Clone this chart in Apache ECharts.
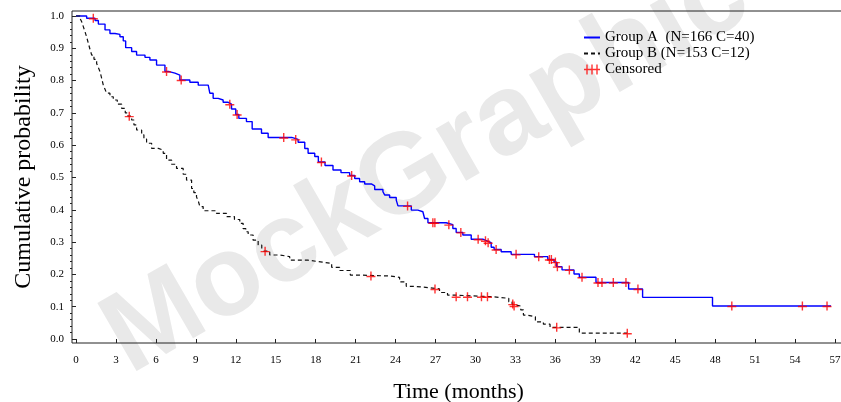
<!DOCTYPE html>
<html>
<head>
<meta charset="utf-8">
<script src="https://cdn.jsdelivr.net/npm/echarts@6/dist/echarts.min.js"></script>
<style>
  html, body { margin: 0; padding: 0; background: #fff; }
  #chart { width: 841px; height: 402px; }
</style>
</head>
<body>
<div id="chart"></div>
<script>
// tick values
const xTicks = [0, 3, 6, 9, 12, 15, 18, 21, 24, 27, 30, 33, 36, 39, 42, 45, 48, 51, 54, 57];
const yTicks = [0, 0.1, 0.2, 0.3, 0.4, 0.5, 0.6, 0.7, 0.8, 0.9, 1.0];

const seriesNames = ['Group A  (N=166 C=40)', 'Group B (N=153 C=12)', 'Censored'];

// Group A: event times and survival after each step
const groupATime = [0, 0.8, 1.43, 1.68, 2.18, 2.55, 2.93, 3.3, 3.55, 3.73, 4.18, 4.55, 5.18, 5.55, 6.05, 6.68, 7.0, 7.43, 7.8,
  8.55, 9.18, 9.93, 10.05, 10.3, 10.68, 11.05, 11.4, 11.68, 12.0, 12.23, 12.8, 13.23, 13.93, 14.43, 16.2, 16.68, 17.18,
  17.43, 17.93, 18.2, 18.7, 19.3, 19.9, 20.55, 20.93, 21.3, 21.68, 22.18, 22.43, 23.05, 23.18, 23.55, 24.05, 24.18,
  25.18, 25.68, 26.05, 26.18, 26.43, 27.8, 28.3, 28.55, 29.05, 29.68, 30.55, 30.85, 31.18, 31.4, 31.93, 32.68, 34.43,
  35.43, 35.9, 36.1, 36.5, 37.4, 37.8, 39.05, 41.5, 42.55, 47.8, 56.7];
const groupASurv = [1.0, 0.993, 0.986, 0.975, 0.957, 0.946, 0.943, 0.936, 0.923, 0.902, 0.890, 0.879, 0.872, 0.864, 0.848,
  0.828, 0.823, 0.817, 0.802, 0.795, 0.786, 0.781, 0.761, 0.745, 0.740, 0.733, 0.727, 0.712, 0.695, 0.683, 0.673, 0.650,
  0.637, 0.624, 0.618, 0.609, 0.590, 0.575, 0.565, 0.548, 0.537, 0.523, 0.515, 0.506, 0.497, 0.487, 0.480, 0.474, 0.463,
  0.456, 0.446, 0.438, 0.430, 0.412, 0.399, 0.394, 0.389, 0.373, 0.360, 0.354, 0.342, 0.330, 0.322, 0.309, 0.304, 0.298,
  0.284, 0.277, 0.270, 0.262, 0.255, 0.246, 0.238, 0.224, 0.214, 0.201, 0.191, 0.175, 0.155, 0.129, 0.102, 0.102];

// Group B
const groupBTime = [0, 0.3, 0.43, 0.55, 0.68, 0.8, 0.93, 1.05, 1.18, 1.35, 1.55, 1.68, 1.8, 1.93, 2.05, 2.18, 2.3, 2.55, 2.8,
  3.1, 3.43, 3.7, 3.9, 4.18, 4.35, 4.55, 4.93, 5.1, 5.3, 5.68, 6.18, 6.55, 6.8, 7.18, 7.55, 8.05, 8.3, 8.68, 8.85, 9.05,
  9.2, 9.3, 9.55, 10.55, 11.3, 11.9, 12.3, 12.55, 12.75, 12.93, 13.3, 13.68, 13.95, 14.1, 14.55, 15.3, 16.05, 17.43,
  18.5, 19.2, 19.8, 20.6, 21.1, 23.6, 24.3, 24.8, 25.4, 26.5, 27.3, 27.9, 28.3, 31.2, 32.5, 32.75, 32.85, 33.4, 33.6,
  33.9, 34.5, 35.1, 35.6, 37.8, 41.4];
const groupBSurv = [1.0, 0.993, 0.982, 0.967, 0.951, 0.935, 0.915, 0.897, 0.879, 0.866, 0.853, 0.840, 0.828, 0.807, 0.786,
  0.773, 0.761, 0.750, 0.740, 0.727, 0.714, 0.700, 0.690, 0.678, 0.663, 0.647, 0.632, 0.619, 0.606, 0.590, 0.585, 0.575,
  0.554, 0.541, 0.528, 0.510, 0.492, 0.466, 0.453, 0.440, 0.425, 0.410, 0.397, 0.389, 0.379, 0.370, 0.358, 0.342, 0.332,
  0.322, 0.306, 0.291, 0.280, 0.272, 0.260, 0.255, 0.244, 0.238, 0.234, 0.222, 0.212, 0.198, 0.195, 0.191, 0.177, 0.163,
  0.159, 0.155, 0.144, 0.136, 0.131, 0.126, 0.115, 0.108, 0.102, 0.090, 0.074, 0.069, 0.053, 0.046, 0.036, 0.018, 0.018];

// censoring times
const censorATime = [1.3, 6.8, 7.9, 11.55, 12.1, 15.6, 16.5, 18.43, 20.7, 24.9, 26.8, 26.95, 28.0, 28.9, 30.2, 30.75,
  30.95, 31.55, 33.05, 34.75, 35.55, 35.7, 36.0, 36.15, 37.05, 38.0, 39.2, 39.5, 40.35, 41.3, 42.2, 49.25, 54.55, 56.4];
const censorBTime = [4.0, 14.2, 22.15, 26.96, 28.55, 29.4, 30.45, 30.9, 32.8, 32.9, 36.1, 41.4];

function survAt(times, surv, t) {
  let s = surv[0];
  for (let i = 0; i < times.length; i++) {
    if (times[i] <= t) s = surv[i];
  }
  return s;
}

const lineA = groupATime.map((t, i) => [t, groupASurv[i]]);
const lineB = groupBTime.map((t, i) => [t, groupBSurv[i]]);
const censored = censorATime.map(t => [t, survAt(groupATime, groupASurv, t)])
  .concat(censorBTime.map(t => [t, survAt(groupBTime, groupBSurv, t)]));

const minorTicks = [];
for (let i = 0; i < yTicks.length - 1; i++) {
  const step = (yTicks[i + 1] - yTicks[i]) / 5;
  for (let k = 1; k < 5; k++) minorTicks.push(+(yTicks[i] + step * k).toFixed(3));
}

const serif = '"Liberation Serif", "Times New Roman", serif';
const axisColor = '#222';
const plusPath = 'path://M0,4.3H9V5.7H0Z M3.8,0H5.2V9H3.8Z';
const plusLegend = 'path://M0,4.3H16V5.7H0Z M2.3,0H3.7V10H2.3Z M7.3,0H8.7V10H7.3Z M12.3,0H13.7V10H12.3Z';

const chart = echarts.init(document.getElementById('chart'), null, { renderer: 'canvas' });
chart.setOption({
  animation: false,
  backgroundColor: '#fff',
  grid: {
    left: 72, top: 11, right: -4, bottom: 59,
    outerBoundsMode: 'none',
    show: true, borderColor: axisColor, borderWidth: 1
  },
  graphic: [{
    type: 'text',
    x: 427, y: 167,
    rotation: 30 * Math.PI / 180,
    z: -10,
    silent: true,
    style: {
      text: 'MockGraphic',
      fontSize: 114,
      fontWeight: 'bold',
      fontFamily: '"Liberation Sans", Arial, sans-serif',
      fill: '#e9e9e9',
      align: 'center',
      verticalAlign: 'middle'
    }
  }],
  legend: {
    orient: 'vertical',
    left: 583, top: 30,
    padding: 0,
    itemWidth: 16, itemHeight: 10, itemGap: 1,
    textStyle: { fontFamily: serif, fontSize: 15, color: '#000' },
    data: [
      { name: seriesNames[0], itemStyle: { opacity: 0 } },
      { name: seriesNames[1], itemStyle: { opacity: 0 } },
      { name: seriesNames[2], icon: plusLegend }
    ]
  },
  xAxis: {
    type: 'value',
    min: -0.3, max: 57.75,
    name: 'Time (months)',
    nameLocation: 'middle',
    nameGap: 38,
    nameTextStyle: { fontFamily: serif, fontSize: 22, color: '#000' },
    axisLine: { show: false },
    axisTick: { show: true, length: 4, customValues: xTicks, lineStyle: { color: axisColor } },
    axisLabel: { customValues: xTicks, margin: 12, fontFamily: serif, fontSize: 11, color: '#000' },
    splitLine: { show: false }
  },
  yAxis: [{
    type: 'value',
    min: -0.0124, max: 1.0155,
    name: 'Cumulative probability',
    nameLocation: 'middle',
    nameGap: 36,
    nameTextStyle: { fontFamily: serif, fontSize: 24, color: '#000' },
    axisLine: { show: false },
    axisTick: { show: true, length: 4, customValues: yTicks, lineStyle: { color: axisColor } },
    axisLabel: { customValues: yTicks, margin: 8, fontFamily: serif, fontSize: 11, color: '#000',
      formatter: v => v.toFixed(1) },
    splitLine: { show: false }
  }, {
    type: 'value',
    position: 'left',
    min: -0.0124, max: 1.0155,
    axisLine: { show: false },
    axisTick: { show: true, length: 2, customValues: minorTicks, lineStyle: { color: axisColor } },
    axisLabel: { show: false },
    splitLine: { show: false }
  }],
  series: [{
    name: seriesNames[0],
    type: 'line',
    step: 'end',
    symbol: 'none',
    data: lineA,
    lineStyle: { color: '#0000ff', width: 1.4 },
    itemStyle: { color: '#0000ff' },
    z: 3
  }, {
    name: seriesNames[1],
    type: 'line',
    step: 'end',
    symbol: 'none',
    data: lineB,
    lineStyle: { color: '#111', width: 1.2, type: [4, 3] },
    itemStyle: { color: '#111' },
    z: 3
  }, {
    name: seriesNames[2],
    type: 'scatter',
    symbol: plusPath,
    symbolSize: 9,
    data: censored,
    itemStyle: { color: '#ff0000' },
    z: 4
  }]
});
</script>
</body>
</html>
